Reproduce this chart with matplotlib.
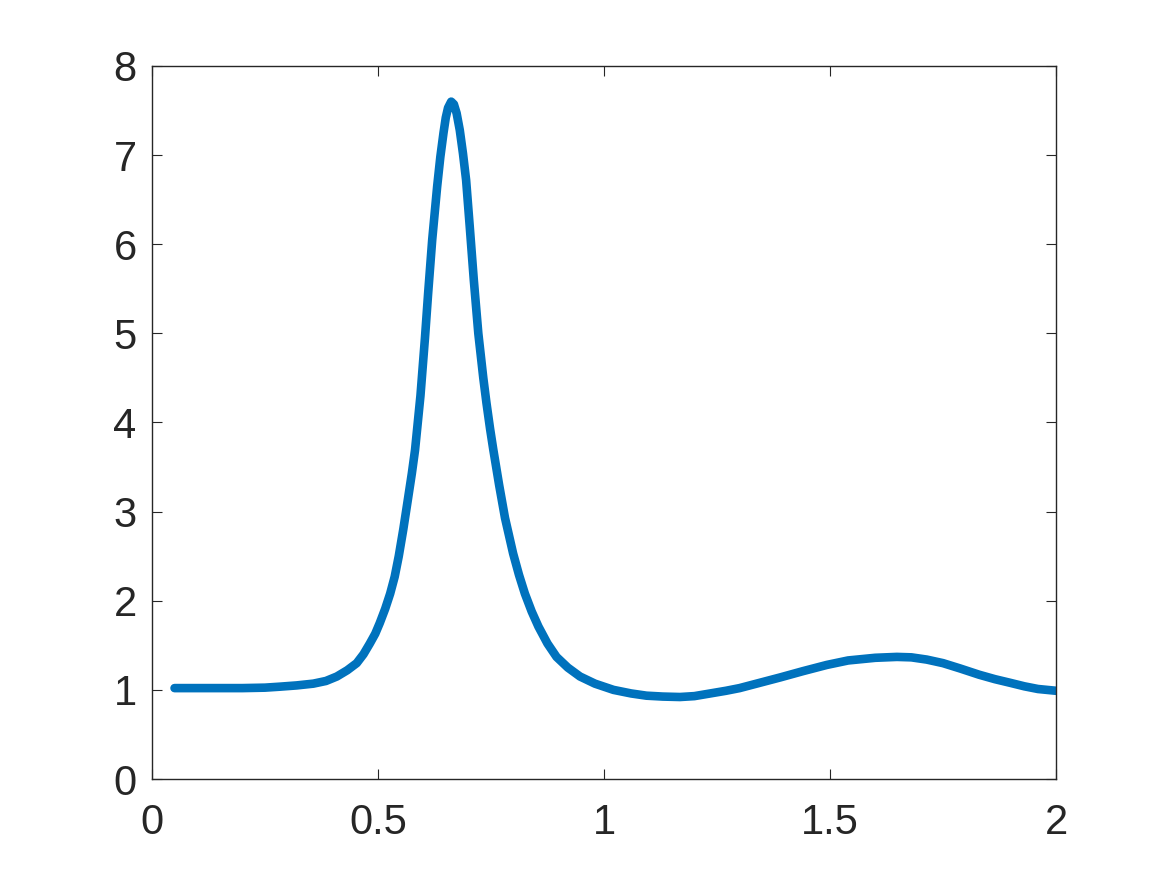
import matplotlib
matplotlib.use("Agg")
import matplotlib.pyplot as plt

# curve values
x_vals = [0.05, 0.10, 0.15, 0.20, 0.25, 0.283, 0.32, 0.357, 0.385, 0.409, 0.432,
          0.453, 0.468, 0.482, 0.494, 0.504, 0.516, 0.527, 0.537, 0.546, 0.556,
          0.566, 0.575, 0.582, 0.594, 0.604, 0.611, 0.620, 0.631, 0.638,
          0.645, 0.650, 0.655, 0.662, 0.668, 0.674, 0.681, 0.688, 0.695, 0.703,
          0.712, 0.722, 0.733, 0.740, 0.748, 0.755, 0.768, 0.781, 0.799, 0.812,
          0.825, 0.840, 0.855, 0.875, 0.895, 0.92, 0.947, 0.98, 1.021, 1.06,
          1.094, 1.13, 1.168, 1.20, 1.235, 1.27, 1.30, 1.345, 1.39, 1.44, 1.493,
          1.54, 1.60, 1.648, 1.68, 1.714, 1.75, 1.788, 1.83, 1.865, 1.898, 1.93,
          1.96, 2.0]
y_vals = [1.02, 1.02, 1.02, 1.02, 1.025, 1.036, 1.05, 1.07, 1.10, 1.15, 1.22,
          1.30, 1.40, 1.52, 1.63, 1.75, 1.91, 2.08, 2.27, 2.50, 2.80,
          3.13, 3.43, 3.69, 4.30, 4.95, 5.45, 6.05, 6.65, 6.98,
          7.25, 7.42, 7.53, 7.60, 7.57, 7.47, 7.28, 7.02, 6.72, 6.20,
          5.60, 5.00, 4.50, 4.22, 3.93, 3.70, 3.30, 2.93, 2.53, 2.29,
          2.08, 1.88, 1.71, 1.52, 1.37, 1.25, 1.15, 1.07, 1.00, 0.96,
          0.935, 0.925, 0.92, 0.93, 0.96, 0.99, 1.02, 1.08, 1.14, 1.21, 1.28,
          1.33, 1.36, 1.37, 1.365, 1.34, 1.30, 1.24, 1.17, 1.12, 1.08, 1.04,
          1.01, 0.99]

x_ticks = [0, 0.5, 1, 1.5, 2]
x_labels = ["0", "0.5", "1", "1.5", "2"]
y_ticks = [0, 1, 2, 3, 4, 5, 6, 7, 8]

plt.rcParams["font.family"] = ["Liberation Sans", "DejaVu Sans"]

fig = plt.figure(figsize=(11.67, 8.75), dpi=100)
ax = fig.add_axes([0.1302, 0.1097, 0.7747, 0.8149])
ax.plot(x_vals, y_vals, color="#0072BD", linewidth=6.2, solid_capstyle="round",
        solid_joinstyle="round")

ax.set_xlim(0, 2)
ax.set_ylim(0, 8)
ax.set_xticks(x_ticks)
ax.set_xticklabels(x_labels)
ax.set_yticks(y_ticks)

edge = "#262626"
for sp in ax.spines.values():
    sp.set_color(edge)
    sp.set_linewidth(1.0)
ax.tick_params(direction="in", length=7, width=0.8, color=edge, labelcolor=edge,
               labelsize=30, top=True, right=True)
ax.tick_params(axis="x", pad=17)
ax.tick_params(axis="y", pad=11)

plt.savefig("out.png", dpi=100)
